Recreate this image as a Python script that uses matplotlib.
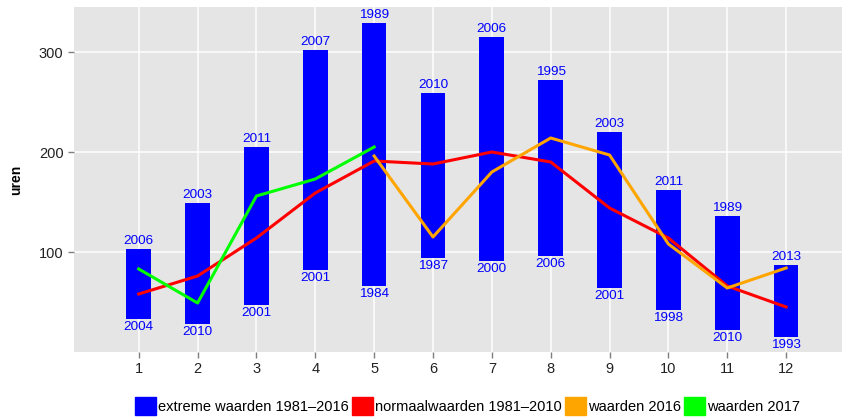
import matplotlib
matplotlib.use('Agg')
import matplotlib.pyplot as plt
from matplotlib.patches import Patch

plt.rcParams['font.family'] = ['Liberation Sans', 'DejaVu Sans']

# months and extreme values 1981-2016
months = [1, 2, 3, 4, 5, 6, 7, 8, 9, 10, 11, 12]
max_vals = [103, 149, 205, 302, 329, 259, 315, 272, 220, 162, 136, 87]
max_years = ['2006', '2003', '2011', '2007', '1989', '2010', '2006', '1995', '2003', '2011', '1989', '2013']
min_vals = [33, 28, 47, 82, 66, 94, 91, 96, 64, 42, 22, 15]
min_years = ['2004', '2010', '2001', '2001', '1984', '1987', '2000', '2006', '2001', '1998', '2010', '1993']

# normals 1981-2010
normal = [58, 76, 114, 159, 191, 188, 200, 190, 144, 114, 66, 45]
# 2016 (May - Dec)
months_2016 = [5, 6, 7, 8, 9, 10, 11, 12]
vals_2016 = [196, 115, 180, 214, 197, 108, 64, 84]
# 2017 (Jan - May)
months_2017 = [1, 2, 3, 4, 5]
vals_2017 = [83, 49, 156, 173, 205]

fig = plt.figure(figsize=(8.42, 4.2), dpi=100)
ax = fig.add_axes([74 / 842, 1 - 352 / 420, 1 - 74 / 842, (352 - 7) / 420])
ax.set_facecolor('#E5E5E5')

heights = [hi - lo for hi, lo in zip(max_vals, min_vals)]
ax.bar(months, heights, bottom=min_vals, width=0.42, color='#0000FF', zorder=2)

for m, hi, lo, yh, yl in zip(months, max_vals, min_vals, max_years, min_years):
    ax.text(m, hi + 2, yh, ha='center', va='bottom', color='#0000FF', fontsize=9.7, zorder=4)
    ax.text(m, lo - 2, yl, ha='center', va='top', color='#0000FF', fontsize=9.7, zorder=4)

ax.plot(months, normal, color='#FF0000', lw=2.2, zorder=3)
ax.plot(months_2016, vals_2016, color='#FFA500', lw=2.2, zorder=3)
ax.plot(months_2017, vals_2017, color='#00FF00', lw=2.2, zorder=3)

ax.set_xlim(-0.1, 12.95)
ax.set_ylim(0, 345)
ax.set_xticks(months)
ax.set_yticks([100, 200, 300])
ax.grid(True, color='white', lw=1.1, zorder=1)
ax.set_axisbelow(True)
for s in ax.spines.values():
    s.set_visible(False)
ax.tick_params(colors='#7F7F7F', labelcolor='#222222', labelsize=10.5, length=4, width=1)
ax.set_ylabel('uren', fontweight='bold', fontsize=10)
ax.yaxis.set_label_coords(-0.066, 0.5)

handles = [Patch(color='#0000FF'), Patch(color='#FF0000'), Patch(color='#FFA500'), Patch(color='#00FF00')]
labels = ['extreme waarden 1981\u20132016', 'normaalwaarden 1981\u20132010', 'waarden 2016', 'waarden 2017']
fig.legend(handles, labels, loc='center', bbox_to_anchor=(467.5 / 842, 1 - 406 / 420), ncol=4,
           frameon=False, handlelength=1.44, handleheight=1.44, handletextpad=0.14,
           columnspacing=0.2, fontsize=10.5, borderpad=0)

fig.savefig('out.png', dpi=100)
